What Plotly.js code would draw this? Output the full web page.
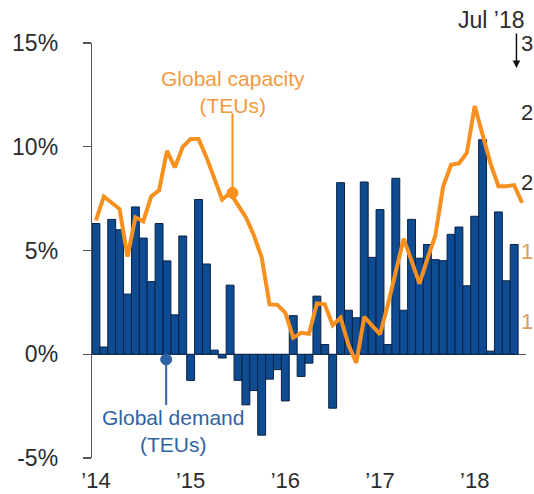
<!DOCTYPE html>
<html>
<head>
<meta charset="utf-8">
<script src="https://cdn.plot.ly/plotly-3.0.1.min.js"></script>
<style>
  html, body { margin: 0; padding: 0; background: #ffffff; }
  #chart { width: 534px; height: 494px; }
</style>
</head>
<body>
<div id="chart"></div>
<script>
// ---- data ----
const years = ["2014", "2015", "2016", "2017", "2018"];
const monthNames = ["Jan","Feb","Mar","Apr","May","Jun","Jul","Aug","Sep","Oct","Nov","Dec"];
const yearTickText = ["\u201914", "\u201915", "\u201916", "\u201917", "\u201918"];

// Global demand growth (TEUs), % y/y, Jan 2014 - Jun 2018
const demand = [
  6.3, 0.35, 6.5, 6.0, 2.9, 7.1, 5.6, 3.5, 6.3, 4.5, 1.9, 5.7,
  -1.26, 7.46, 4.35, 0.2, -0.18, 3.33, -1.26, -2.44, -1.75, -3.9, -1.2, -0.74,
  -2.25, 1.86, -1.07, -0.43, 2.8, 0.47, -2.6, 8.27, 2.12, 1.76, 8.3, 4.67,
  6.97, 0.47, 8.48, 2.12, 6.5, 4.63, 5.29, 4.56, 4.51, 5.78, 6.13, 3.3,
  6.65, 10.34, 0.15, 6.86, 3.54, 5.29
];

// Global capacity growth (TEUs), % y/y, Jan 2014 - Jul 2018
const capacity = [
  6.45, 7.6, 7.3, 7.0, 4.7, 6.6, 6.4, 7.6, 7.9, 9.8, 9.0, 10.0,
  10.37, 10.37, 9.5, 8.5, 7.45, 7.78, 7.2, 6.6, 5.75, 4.67, 2.4, 2.38,
  2.0, 0.8, 1.03, 0.99, 2.45, 2.41, 1.4, 1.76, 0.45, -0.42, 1.8, 1.4,
  0.96, 2.4, 3.9, 5.57, 4.5, 3.4, 4.6, 5.7, 8.08, 9.13, 9.2, 9.7,
  11.96, 10.5, 9.2, 8.1, 8.1, 8.15, 7.3
];

const yTickVals = [-5, 0, 5, 10, 15];
const yTickText = ["-5%", "0%", "5%", "10%", "15%"];
const rightAxisLabels = ["3", "2", "2", "1", "1"];   // labels of the neighbouring axis at the right edge
const rightAxisColors = ["#2b2b2b", "#2b2b2b", "#2b2b2b", "#d9a060", "#d9a060"];

// ---- build month categories ----
const months = [];
years.forEach(y => monthNames.forEach(m => months.push(m + " " + y)));
const demandX = months.slice(0, demand.length);
const capacityX = months.slice(0, capacity.length);
const yearTickVals = years.map(y => "Jan " + y);

const FONT = "Liberation Sans, Arial, sans-serif";
const BAR = "#0e4b91";
const ORANGE = "#f7901e";
const BLUE_TXT = "#2f62a3";

const capIdx = 17;   // point on the capacity line that the label points to
const demIdx = 9;    // bar the demand label points to

const traces = [
  {
    type: "bar",
    x: demandX,
    y: demand,
    marker: { color: BAR, line: { color: "#0a2246", width: 1 } },
    hoverinfo: "skip"
  },
  {
    type: "scatter",
    mode: "lines",
    x: capacityX,
    y: capacity,
    line: { color: ORANGE, width: 4 },
    hoverinfo: "skip"
  }
];

const annotations = [
  {
    xref: "x", yref: "y", x: capIdx + 0.35, y: 12.64,
    text: "Global capacity<br>(TEUs)", showarrow: false,
    font: { family: FONT, size: 21, color: "#f39a3e" },
    xanchor: "center", yanchor: "middle"
  },
  {
    xref: "x", yref: "y", x: demIdx + 0.75, y: -3.72,
    text: "Global demand<br>(TEUs)", showarrow: false,
    font: { family: FONT, size: 21, color: BLUE_TXT },
    xanchor: "center", yanchor: "middle"
  },
  {
    xref: "paper", yref: "paper", x: 1.001, y: 1.056,
    text: "Jul \u201918", showarrow: false,
    font: { family: FONT, size: 23, color: "#2b2b2b" },
    xanchor: "right", yanchor: "middle"
  },
  {
    xref: "paper", yref: "paper", x: 0.978, y: 0.940,
    text: "", showarrow: true, ax: 0, ay: -36,
    arrowhead: 2, arrowsize: 1, arrowwidth: 1.5, arrowcolor: "#111111"
  }
];

rightAxisLabels.forEach((t, i) => {
  annotations.push({
    xref: "paper", yref: "y", x: 1, y: 15 - i * 3.35, xshift: -7,
    text: t, showarrow: false, xanchor: "left", yanchor: "middle",
    font: { family: FONT, size: 22, color: rightAxisColors[i] }
  });
});

const shapes = [
  // capacity pointer
  { type: "line", xref: "x", yref: "y", x0: capIdx + 0.3, x1: capIdx + 0.3,
    y0: capacity[capIdx], y1: 11.6, line: { color: ORANGE, width: 2 } },
  { type: "circle", xref: "x", yref: "y", xsizemode: "pixel", ysizemode: "pixel",
    xanchor: capIdx + 0.3, yanchor: capacity[capIdx], x0: -5.5, x1: 5.5, y0: -5.5, y1: 5.5,
    fillcolor: ORANGE, line: { color: ORANGE, width: 1 } },
  // demand pointer
  { type: "line", xref: "x", yref: "y", x0: demIdx - 0.1, x1: demIdx - 0.1,
    y0: -0.25, y1: -2.45, line: { color: BLUE_TXT, width: 2 } },
  { type: "circle", xref: "x", yref: "y", xsizemode: "pixel", ysizemode: "pixel",
    xanchor: demIdx - 0.1, yanchor: -0.25, x0: -5.5, x1: 5.5, y0: -5.5, y1: 5.5,
    fillcolor: BLUE_TXT, line: { color: BLUE_TXT, width: 1 } }
];

const layout = {
  width: 534, height: 494,
  margin: { l: 92, r: 7.5, t: 43.3, b: 36.3, pad: 0 },
  paper_bgcolor: "#ffffff",
  plot_bgcolor: "#ffffff",
  showlegend: false,
  bargap: 0,
  font: { family: FONT, size: 22, color: "#2b2b2b" },
  xaxis: {
    type: "category",
    categoryorder: "array",
    categoryarray: months,
    range: [-0.5, 54.5],
    tickmode: "array",
    tickvals: yearTickVals,
    ticktext: yearTickText,
    ticks: "",
    showline: false,
    showgrid: false,
    zeroline: false,
    tickfont: { family: FONT, size: 22, color: "#2b2b2b" },
    ticklabelstandoff: 7,
    fixedrange: true
  },
  yaxis: {
    range: [-5, 15],
    tickmode: "array",
    tickvals: yTickVals,
    ticktext: yTickText,
    ticks: "outside",
    ticklen: 8,
    tickwidth: 1.3,
    tickcolor: "#555555",
    showline: true,
    linecolor: "#555555",
    linewidth: 1.3,
    showgrid: false,
    zeroline: true,
    zerolinecolor: "#555555",
    zerolinewidth: 1.3,
    tickfont: { family: FONT, size: 23, color: "#2b2b2b" },
    ticklabelstandoff: 20,
    fixedrange: true
  },
  annotations: annotations,
  shapes: shapes
};

Plotly.newPlot("chart", traces, layout, { displayModeBar: false, staticPlot: true });
</script>
</body>
</html>
